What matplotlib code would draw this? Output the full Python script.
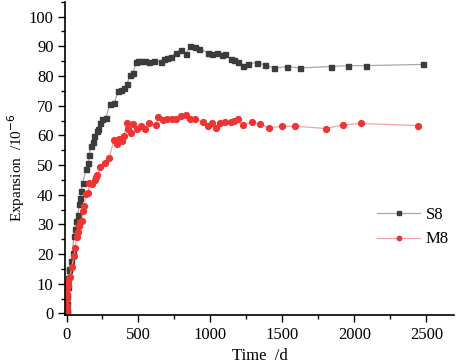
import matplotlib
matplotlib.use("Agg")
import matplotlib.pyplot as plt
from matplotlib.ticker import MultipleLocator

plt.rcParams['font.family'] = ['Liberation Serif', 'DejaVu Serif']

# S8 expansion data (time in days, expansion in 1e-6)
s8Time = [0, 2, 3, 5, 7, 10, 14, 20, 31, 43, 50, 59, 66, 78, 89, 96, 101, 112, 138, 151,
          158, 170, 182, 193, 210, 220, 233, 244, 274, 302, 332, 360, 378, 397, 420, 441,
          464, 483, 494, 517, 545, 575, 610, 656, 679, 698, 726, 760, 795, 830, 860, 892,
          922, 980, 1010, 1045, 1077, 1100, 1140, 1165, 1193, 1226, 1258, 1321, 1381, 1443,
          1531, 1622, 1835, 1953, 2082, 2473]
s8Exp = [0, 1, 3, 6, 9, 12, 14.5, 14.9, 17.7, 20.5, 26.1, 28.6, 31.2, 33.1, 36.8, 39, 41.3,
         44.1, 48.6, 50.8, 53.4, 56.4, 57.6, 59.8, 61.5, 62, 64.3, 65.4, 66, 70.5, 71, 75,
         75.3, 75.8, 77.2, 80.2, 81.1, 84.7, 85, 84.9, 84.9, 84.7, 85, 84.8, 85.6, 86.2,
         86.4, 87.9, 88.8, 87.5, 90.1, 89.8, 89.2, 87.9, 87.5, 87.9, 87.1, 87.3, 85.8, 85.4,
         84.7, 83.4, 84.2, 84.5, 83.7, 82.6, 83.2, 82.7, 83.2, 83.5, 83.5, 83.9]

# M8 expansion data
m8Time = [0, 1, 2, 3, 4, 5, 7, 9, 12, 24, 36, 54, 59, 71, 78, 85, 94, 108, 112, 124, 135,
          151, 158, 175, 195, 205, 215, 235, 267, 297, 328, 349, 367, 385, 401, 418, 429,
          448, 460, 488, 517, 547, 575, 622, 633, 668, 698, 730, 760, 795, 830, 860, 892,
          946, 980, 1010, 1040, 1068, 1100, 1140, 1165, 1193, 1226, 1286, 1346, 1408, 1497,
          1589, 1800, 1918, 2047, 2439]
m8Exp = [0, 0.9, 2.6, 4.8, 6.5, 8.2, 9.3, 10.4, 11.2, 12.1, 15.5, 19.4, 22.2, 25.6, 27.3,
         29.5, 30.8, 31.2, 34.5, 36.2, 40.2, 40.7, 43.9, 43.5, 45, 45.8, 46.6, 49.2, 50.8,
         52.5, 58.3, 57, 58.9, 58.1, 59.8, 64.3, 62.3, 60.9, 63.7, 62, 63.2, 62.3, 64, 63.4,
         66.3, 65.2, 65.6, 65.4, 65.4, 66.5, 66.8, 65.6, 65.6, 64.5, 63.2, 64, 62.6, 64.3,
         64.6, 64.5, 64.8, 65.4, 63.4, 64.6, 63.7, 62.6, 63, 63.1, 62.3, 63.5, 64, 63.3]

fig = plt.figure(figsize=(4.57, 3.64), dpi=100)
ax = fig.add_axes([0.143, 0.135, 0.85, 0.86])

ax.plot(s8Time, s8Exp, color='#a8a8a8', linewidth=0.9, marker='s', markersize=3.6,
        markerfacecolor='#3c3c3c', markeredgecolor='#3c3c3c', label='S8')
ax.plot(m8Time, m8Exp, color='#f5a3a3', linewidth=0.9, marker='o', markersize=4.2,
        markerfacecolor='#f03434', markeredgecolor='#f03434', label='M8')

ax.set_xlim(-8, 2690)
ax.set_ylim(-0.5, 105)
ax.xaxis.set_major_locator(MultipleLocator(500))
ax.xaxis.set_minor_locator(MultipleLocator(250))
ax.yaxis.set_major_locator(MultipleLocator(10))
ax.yaxis.set_minor_locator(MultipleLocator(5))
ax.tick_params(which='both', direction='out', labelsize=12, width=1)
ax.tick_params(which='major', length=5)
ax.tick_params(which='minor', length=3)
ax.spines['top'].set_visible(False)
ax.spines['right'].set_visible(False)
ax.spines['left'].set_linewidth(1.2)
ax.spines['bottom'].set_linewidth(1.2)

ax.set_xlabel('Time  /d', fontsize=12, labelpad=4)
ax.set_ylabel('Expansion  /10$^{-6}$', fontsize=11)
ax.yaxis.set_label_coords(-0.10, 0.47)

ax.legend(loc='center right', bbox_to_anchor=(1.025, 0.28), frameon=False, fontsize=12,
          handlelength=2.6, handletextpad=0.3, labelspacing=0.5, markerscale=0.75)

fig.savefig('out.png', dpi=100)
